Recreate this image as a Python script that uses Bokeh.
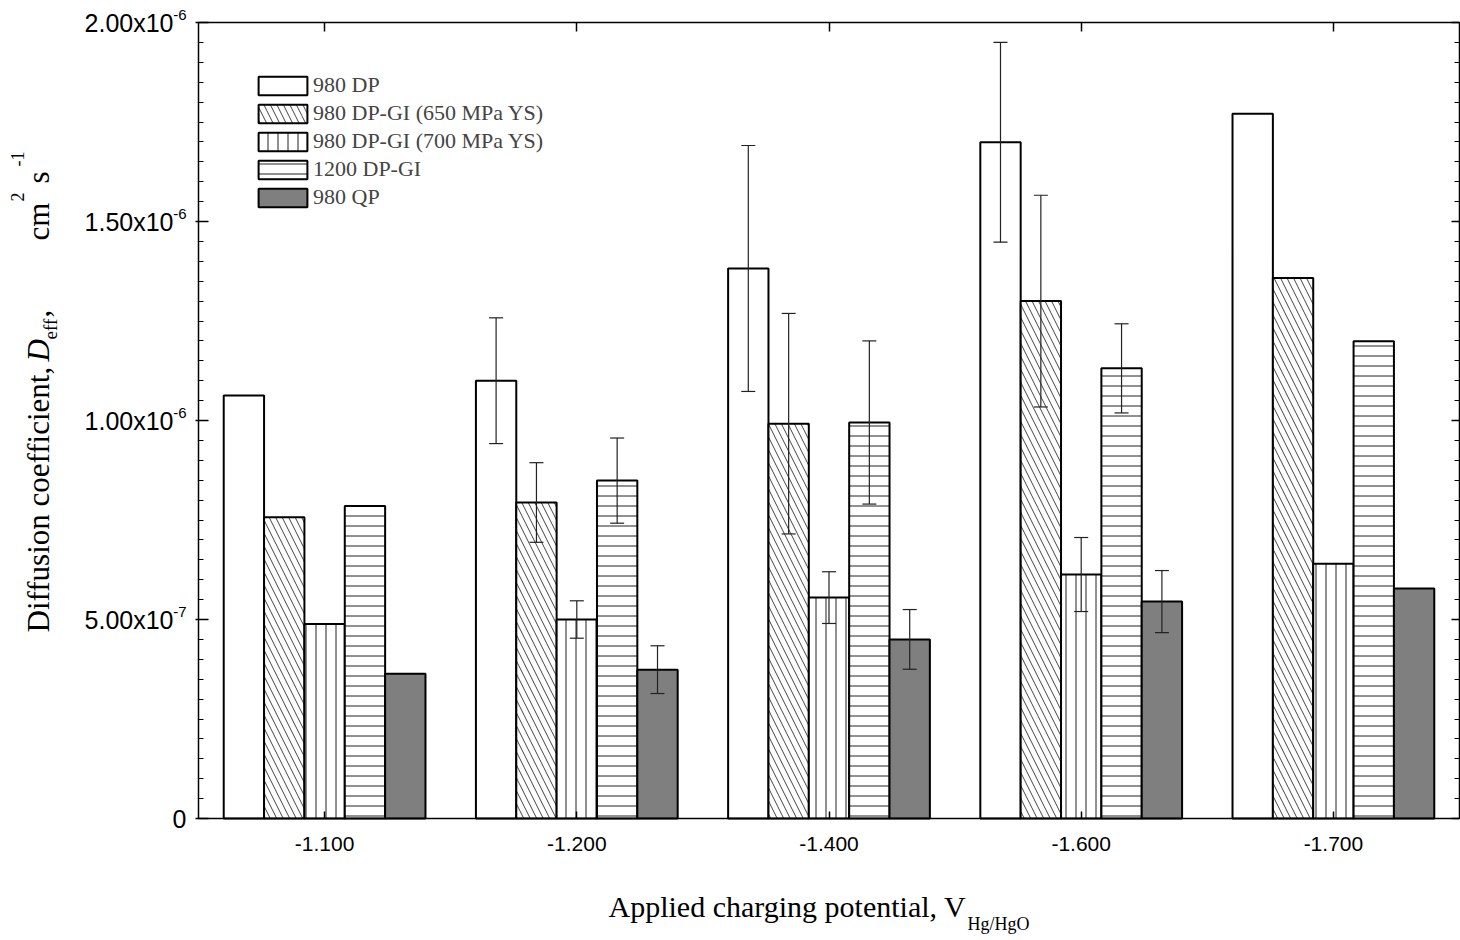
import math
from bokeh.plotting import figure
from bokeh.models import (ColumnDataSource, FixedTicker, LinearAxis, Range1d, Legend,
                          LegendItem, Whisker, TeeHead, LabelSet, Label, CustomJSTickFormatter)
from bokeh.core.properties import value
from bokeh.embed import file_html
from bokeh.resources import INLINE

NaN = float("nan")

# ---------------- data ----------------
potentials = ["-1.100", "-1.200", "-1.400", "-1.600", "-1.700"]
series_names = ["980 DP", "980 DP-GI (650 MPa YS)", "980 DP-GI (700 MPa YS)", "1200 DP-GI", "980 QP"]

dp980 = [1.063e-6, 1.100e-6, 1.382e-6, 1.699e-6, 1.771e-6]
dpgi650 = [0.757e-6, 0.794e-6, 0.992e-6, 1.300e-6, 1.358e-6]
dpgi700 = [0.489e-6, 0.500e-6, 0.555e-6, 0.613e-6, 0.640e-6]
dpgi1200 = [0.785e-6, 0.849e-6, 0.995e-6, 1.131e-6, 1.199e-6]
qp980 = [0.364e-6, 0.374e-6, 0.450e-6, 0.545e-6, 0.578e-6]

err_dp980 = [NaN, 0.158e-6, 0.309e-6, 0.251e-6, NaN]
err_dpgi650 = [NaN, 0.100e-6, 0.277e-6, 0.266e-6, NaN]
err_dpgi700 = [NaN, 0.047e-6, 0.065e-6, 0.093e-6, NaN]
err_dpgi1200 = [NaN, 0.107e-6, 0.205e-6, 0.112e-6, NaN]
err_qp980 = [NaN, 0.060e-6, 0.075e-6, 0.078e-6, NaN]

ytick_values = [0, 5e-7, 1e-6, 1.5e-6, 2e-6]
ytick_mantissa = ["0", "5.00x10", "1.00x10", "1.50x10", "2.00x10"]
ytick_exponent = ["", "-7", "-6", "-6", "-6"]

# ---------------- layout / styles ----------------
W, H = 1460, 940
BOX_L, BOX_R, BOX_T, BOX_B = 198, 1459, 22, 818      # canvas px of the plot box
X0, X1 = -0.5, 4.5
Y0, Y1 = 0.0, 2e-6
sx_per = (BOX_R - BOX_L) / (X1 - X0)
sy_per = (BOX_B - BOX_T) / (Y1 - Y0)
x_range = Range1d(X0 - BOX_L / sx_per, X1 + (W - BOX_R) / sx_per)
y_range = Range1d(Y0 - (H - BOX_B) / sy_per, Y1 + BOX_T / sy_per)

BAR_W = 0.16
offsets = [-0.32, -0.16, 0.0, 0.16, 0.32]
fills = ["white", "white", "white", "white", "#7f7f7f"]
hatches = [None, "\\", "|", "-", None]
hatch_scales = [10, 13, 10, 10, 10]
hatch_colors = ["black", "#444444", "#222222", "#222222", "black"]

p = figure(width=W, height=H, output_backend="svg", toolbar_location=None,
           x_range=x_range, y_range=y_range,
           min_border=0, min_border_left=0, min_border_right=0, min_border_top=0,
           min_border_bottom=0, background_fill_color="white", border_fill_color="white")
p.xgrid.visible = False
p.ygrid.visible = False
p.outline_line_color = None
p.xaxis.visible = False
p.yaxis.visible = False

blank = CustomJSTickFormatter(code="return ''")
minor = [i * 5e-8 for i in range(41)]
group_idx = list(range(len(potentials)))

common = dict(axis_line_width=1.5, axis_line_color="black", major_tick_line_width=1.5,
              minor_tick_line_width=1.2, major_tick_line_color="black",
              minor_tick_line_color="black")

# left axis (frame edge)
la = LinearAxis(fixed_location=X0, bounds=(Y0, Y1), formatter=blank,
                ticker=FixedTicker(ticks=ytick_values, minor_ticks=minor),
                major_tick_in=10, major_tick_out=3, minor_tick_in=5, minor_tick_out=0,
                major_label_standoff=0, **common)
p.add_layout(la, "left")

# right axis
ra = LinearAxis(fixed_location=X1, bounds=(Y0, Y1), formatter=blank,
                ticker=FixedTicker(ticks=ytick_values, minor_ticks=minor),
                major_tick_in=8, major_tick_out=0, minor_tick_in=5, minor_tick_out=0,
                major_label_standoff=0, **common)
p.add_layout(ra, "right")

# bottom axis
ba = LinearAxis(fixed_location=Y0, bounds=(X0, X1),
                ticker=FixedTicker(ticks=group_idx, minor_ticks=[]),
                major_label_overrides={i: t for i, t in zip(group_idx, potentials)},
                major_label_text_font="Liberation Sans", major_label_text_font_size="21px",
                major_label_text_color="black", major_label_standoff=18,
                major_tick_in=7, major_tick_out=0, minor_tick_in=0, minor_tick_out=0,
                **common)
p.add_layout(ba, "below")

# top axis
ta = LinearAxis(fixed_location=Y1, bounds=(X0, X1), formatter=blank,
                ticker=FixedTicker(ticks=group_idx, minor_ticks=[]),
                major_tick_in=9, major_tick_out=0, minor_tick_in=0, minor_tick_out=0,
                major_label_standoff=0, **common)
p.add_layout(ta, "above")

# ---------------- bars ----------------
all_vals = [dp980, dpgi650, dpgi700, dpgi1200, qp980]
all_errs = [err_dp980, err_dpgi650, err_dpgi700, err_dpgi1200, err_qp980]
renderers = []
for k, vals in enumerate(all_vals):
    src = ColumnDataSource(dict(x=[i + offsets[k] for i in group_idx], top=vals))
    kw = dict(x="x", top="top", bottom=0, width=BAR_W, source=src,
              fill_color=fills[k], line_color="black", line_width=2)
    if hatches[k]:
        kw.update(hatch_pattern=hatches[k], hatch_color=hatch_colors[k], hatch_weight=1,
                  hatch_scale=hatch_scales[k])
    renderers.append(p.vbar(**kw))

# error bars
ex, eu, el = [], [], []
for k, (vals, errs) in enumerate(zip(all_vals, all_errs)):
    for i, (v, e) in enumerate(zip(vals, errs)):
        if e == e:
            ex.append(i + offsets[k]); eu.append(v + e); el.append(v - e)
esrc = ColumnDataSource(dict(x=ex, upper=eu, lower=el))
wk = Whisker(source=esrc, base="x", upper="upper", lower="lower",
             line_color="#222222", line_width=1.2, level="overlay",
             upper_head=TeeHead(size=14, line_color="#222222", line_width=1.2),
             lower_head=TeeHead(size=14, line_color="#222222", line_width=1.2))
p.add_layout(wk)

# ---------------- legend ----------------
legend = Legend(items=[LegendItem(label=n, renderers=[r]) for n, r in zip(series_names, renderers)],
                location=(252, 730), glyph_width=61, glyph_height=23, label_height=18,
                label_text_font="Liberation Serif", label_text_font_size="22px",
                label_standoff=0, spacing=2, padding=0, margin=0,
                border_line_color=None, background_fill_alpha=0)
p.add_layout(legend)

# ---------------- y tick labels (with superscript exponents) ----------------
mant_x = [BOX_L - 12 if e == "" else BOX_L - 25 for e in ytick_exponent]
tsrc = ColumnDataSource(dict(y=ytick_values, m=ytick_mantissa, e=ytick_exponent, sx=mant_x,
                             ex=[BOX_L - 12] * len(ytick_values)))
p.add_layout(LabelSet(x="sx", y="y", text="m", source=tsrc, x_units="screen", y_units="data",
                      text_align="right", text_baseline="middle",
                      text_font=value("Liberation Sans"), text_font_size=value("25px"),
                      text_color="black"))
p.add_layout(LabelSet(x="ex", y="y", text="e", source=tsrc, x_units="screen", y_units="data",
                      text_align="right", text_baseline="middle", y_offset=8,
                      text_font=value("Liberation Sans"), text_font_size=value("15px"),
                      text_color="black"))


# ---------------- axis titles (composed text) ----------------
def lab(text, cx, cy, size, style="normal", angle=0.0):
    p.add_layout(Label(x=cx, y=H - cy, x_units="screen", y_units="screen",
                       text=text, text_font="Liberation Serif", text_font_size=f"{size}px",
                       text_font_style=style, text_color="black", angle=angle,
                       text_align="left", text_baseline="alphabetic"))


# x title
lab("Applied charging potential, V", 608, 906, 30)
lab("Hg/HgO", 967, 923, 18)

# y title (rotated, reads bottom to top)
R = math.pi / 2
lab("Diffusion coefficient,", 38, 632, 31, angle=R)
lab("D", 38, 361, 31, "italic", angle=R)
lab("eff", 50, 339, 19, angle=R)
lab(",", 38, 317, 31, angle=R)
lab("cm", 38, 240, 31, angle=R)
lab("2", 17, 201, 18, angle=R)
lab("s", 38, 183, 31, angle=R)
lab("-1", 17, 166, 18, angle=R)

open("out.html", "w").write(file_html(p, INLINE))
